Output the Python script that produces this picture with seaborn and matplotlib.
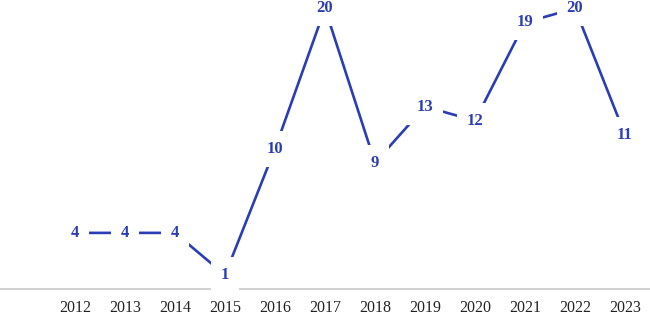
import matplotlib
matplotlib.use("Agg")
import matplotlib.pyplot as plt
import seaborn as sns
import pandas as pd

years = ["2012", "2013", "2014", "2015", "2016", "2017", "2018", "2019", "2020", "2021", "2022", "2023"]
counts = [4, 4, 4, 1, 10, 20, 9, 13, 12, 19, 20, 11]

sns.set_style("white")
plt.rcParams["font.family"] = ["Liberation Serif", "DejaVu Serif"]

df = pd.DataFrame({"year": years, "count": counts})

fig = plt.figure(figsize=(6.5, 3.18), dpi=100)
ax = fig.add_axes([0, 0.0912, 1, 0.9088])

line_color = "#2A3DB5"
sns.lineplot(data=df, x="year", y="count", ax=ax, color=line_color,
             linewidth=1.9, sort=False, zorder=2)

for i, (y, v) in enumerate(zip(years, counts)):
    ax.text(i, v, str(v), ha="center", va="center", fontsize=12,
            fontweight="bold", color=line_color, zorder=5, clip_on=False,
            bbox=dict(boxstyle="square,pad=0.6", facecolor="white",
                      edgecolor="none"))

ax.set_xlim(-1.5, 11.5)
ax.set_ylim(0, 20.6)
ax.set_xlabel("")
ax.set_ylabel("")
ax.set_yticks([])
for s in ["top", "left", "right"]:
    ax.spines[s].set_visible(False)
ax.spines["bottom"].set_color("#C8C8C8")
ax.spines["bottom"].set_linewidth(1.2)
ax.spines["bottom"].set_zorder(1)
ax.tick_params(axis="x", length=0, pad=8, labelsize=11.5, labelcolor="#222222")

fig.savefig("out.png", dpi=100)
